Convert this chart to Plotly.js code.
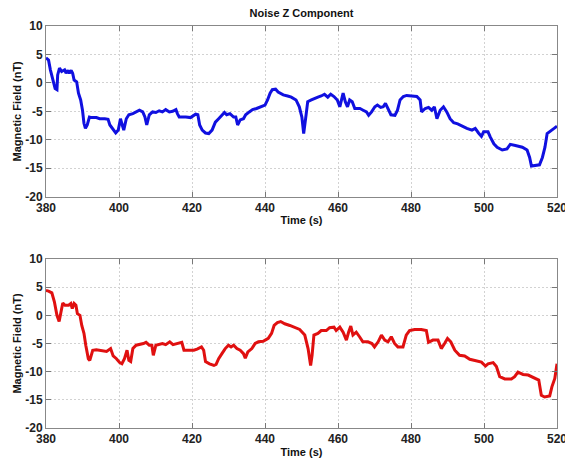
<!DOCTYPE html>
<html>
<head>
<meta charset="utf-8">
<script src="https://cdn.plot.ly/plotly-3.0.1.min.js"></script>
<style>
  html, body { margin: 0; padding: 0; background: #fff; }
  #chart { width: 565px; height: 465px; }
</style>
</head>
<body>
<div id="chart"></div>
<script>
// Noise Z component, first record (blue)
const timeA = [380.0, 380.7, 381.2, 381.9, 382.5, 383.0, 383.2, 383.7, 384.3, 385.1, 385.5, 386.0, 386.4, 386.9, 387.3, 387.7, 388.4, 388.9, 389.5, 390.0, 390.4, 390.8, 391.3, 391.9, 392.5, 393.8, 394.7, 396.1, 397.0, 397.5, 398.4, 399.1, 399.8, 400.4, 400.9, 401.3, 402.0, 402.7, 403.8, 404.7, 405.6, 406.5, 407.1, 407.6, 408.3, 409.2, 410.1, 411.0, 411.9, 412.8, 413.8, 414.7, 415.6, 416.0, 416.5, 418.3, 419.6, 421.0, 421.6, 422.1, 422.8, 423.7, 424.6, 425.5, 426.4, 427.3, 428.2, 428.9, 429.5, 430.4, 431.4, 432.0, 432.5, 433.2, 434.1, 434.7, 435.7, 436.6, 437.7, 439.1, 440.0, 440.7, 441.4, 442.0, 442.9, 443.6, 445.0, 446.2, 447.2, 448.5, 449.4, 450.1, 450.6, 451.3, 451.7, 452.7, 453.6, 454.5, 455.4, 456.3, 457.2, 458.0, 458.9, 459.8, 460.5, 460.9, 461.4, 462.0, 462.6, 463.2, 463.9, 464.6, 466.0, 466.9, 467.8, 468.4, 469.2, 470.1, 470.8, 471.7, 472.4, 473.0, 473.8, 474.5, 475.6, 476.3, 477.0, 477.9, 478.8, 480.2, 481.6, 482.5, 482.9, 483.9, 484.8, 485.7, 486.4, 487.1, 488.0, 488.9, 489.8, 490.7, 491.7, 492.8, 493.9, 495.3, 496.7, 497.6, 498.5, 499.3, 499.9, 501.1, 501.7, 502.7, 503.6, 505.0, 506.3, 507.2, 508.6, 510.5, 511.8, 512.5, 513.0, 513.9, 515.2, 516.0, 516.7, 517.3, 518.3, 519.2, 520.0];
const fieldA = [4.4, 4.0, 2.3, 0.5, -1.0, -1.2, 1.4, 2.6, 2.0, 2.3, 1.7, 2.2, 1.7, 2.2, 1.7, 0.5, 0.2, -1.8, -3.0, -4.8, -7.1, -8.0, -7.4, -6.0, -6.1, -6.1, -6.3, -6.3, -6.4, -7.4, -8.3, -8.8, -8.3, -6.3, -7.4, -8.3, -6.3, -5.6, -5.4, -5.1, -4.8, -5.1, -6.0, -7.4, -5.6, -5.1, -5.2, -4.9, -5.1, -4.7, -5.1, -5.0, -4.7, -5.4, -6.0, -6.0, -6.1, -5.5, -5.6, -7.4, -8.3, -8.8, -8.9, -8.3, -6.9, -6.3, -5.6, -5.2, -5.6, -5.4, -6.0, -6.0, -7.4, -6.5, -6.3, -5.6, -5.1, -4.7, -4.5, -4.2, -3.9, -3.0, -1.8, -1.2, -1.1, -1.6, -2.1, -2.3, -2.5, -3.0, -4.2, -6.0, -8.9, -5.4, -3.3, -3.0, -2.7, -2.5, -2.3, -2.0, -2.5, -2.0, -2.4, -3.0, -4.2, -3.0, -1.8, -3.3, -4.2, -3.0, -3.3, -4.5, -4.5, -4.8, -5.1, -5.7, -5.1, -4.2, -3.9, -4.3, -4.2, -3.6, -4.8, -5.6, -5.7, -4.8, -3.0, -2.4, -2.2, -2.3, -2.4, -3.0, -5.1, -4.5, -4.3, -4.8, -4.2, -6.3, -4.8, -4.2, -5.1, -6.3, -7.0, -7.2, -7.6, -8.0, -8.3, -8.0, -8.8, -9.4, -8.6, -8.6, -9.5, -10.7, -11.3, -11.8, -11.6, -10.8, -11.0, -11.3, -11.8, -13.1, -14.6, -14.5, -14.4, -13.1, -11.3, -8.9, -8.5, -8.0, -7.6];

// Noise Z component, second record (red)
const timeB = [380.0, 380.7, 381.6, 382.3, 383.0, 383.6, 384.2, 384.6, 385.2, 386.2, 386.8, 387.2, 387.7, 388.2, 388.6, 389.3, 389.8, 390.4, 390.9, 391.6, 392.0, 392.8, 393.8, 395.2, 396.6, 397.7, 398.4, 399.3, 400.2, 400.8, 401.5, 402.2, 402.7, 403.2, 403.8, 404.7, 405.6, 406.7, 407.4, 408.3, 409.0, 409.4, 410.1, 411.0, 411.9, 412.8, 413.9, 414.8, 416.0, 417.2, 417.8, 419.2, 420.5, 421.4, 422.6, 423.2, 423.7, 424.8, 426.0, 426.6, 427.3, 428.2, 429.1, 430.0, 430.7, 431.4, 432.3, 433.2, 434.1, 434.6, 435.3, 436.4, 437.3, 438.2, 439.5, 440.9, 441.8, 442.5, 443.4, 444.3, 445.4, 446.8, 448.1, 449.5, 450.9, 451.8, 452.5, 452.9, 453.4, 454.5, 455.4, 456.8, 457.7, 458.9, 459.5, 460.5, 461.4, 462.3, 462.9, 463.5, 464.1, 465.0, 465.9, 466.8, 468.2, 469.3, 470.0, 471.0, 471.9, 472.8, 473.7, 474.6, 475.5, 476.4, 477.8, 478.7, 479.6, 481.0, 482.8, 484.2, 484.8, 486.0, 487.4, 488.3, 489.2, 490.0, 490.9, 492.0, 493.3, 494.7, 496.1, 497.4, 499.3, 500.4, 501.1, 502.5, 503.4, 504.3, 505.7, 507.5, 508.4, 509.3, 510.7, 512.1, 513.9, 515.0, 515.7, 516.6, 518.0, 518.6, 519.4, 520.0];
const fieldB = [4.4, 4.3, 4.0, 2.4, 0.0, -1.1, 0.9, 2.2, 1.8, 1.8, 2.1, 1.2, 2.1, 1.8, 0.3, 0.0, -1.8, -3.2, -5.3, -7.7, -8.0, -6.2, -6.1, -6.2, -6.4, -5.9, -7.2, -7.7, -8.4, -8.6, -7.7, -6.2, -8.0, -8.2, -5.9, -5.3, -5.2, -5.0, -4.8, -5.3, -5.3, -7.1, -5.3, -5.2, -5.0, -5.2, -4.7, -5.2, -5.0, -4.8, -6.2, -6.2, -6.2, -6.0, -5.6, -6.2, -8.2, -8.6, -8.9, -8.7, -7.7, -6.8, -5.9, -5.3, -5.6, -5.3, -5.9, -6.2, -6.8, -7.6, -6.5, -5.9, -5.0, -4.7, -4.6, -4.1, -3.2, -1.8, -1.3, -1.1, -1.5, -1.8, -2.1, -2.5, -3.5, -5.9, -8.9, -7.1, -3.5, -3.2, -2.7, -2.7, -2.2, -2.1, -2.7, -2.1, -3.0, -4.4, -3.0, -1.9, -3.5, -3.0, -3.8, -4.7, -4.7, -5.0, -5.6, -4.7, -3.5, -4.4, -4.7, -3.8, -5.0, -5.6, -5.6, -3.5, -2.7, -2.5, -2.5, -2.7, -4.8, -4.4, -4.4, -5.9, -5.0, -4.1, -4.7, -6.2, -7.1, -7.2, -7.8, -8.0, -8.3, -9.0, -8.6, -8.4, -9.1, -10.9, -11.3, -11.3, -10.9, -10.1, -10.5, -10.6, -11.1, -11.5, -14.2, -14.5, -14.3, -12.7, -11.2, -8.6];

const xTicks = [380, 400, 420, 440, 460, 480, 500, 520];
const yTicks = [10, 5, 0, -5, -10, -15, -20];

const FONT = 'Arial, "Liberation Sans", sans-serif';
const tickFont = { family: FONT, size: 12, color: '#222', weight: 'bold' };
const labelFont = { family: FONT, size: 11, color: '#111', weight: 'bold' };

function xAxis(anchor) {
  return {
    anchor: anchor,
    range: [380, 520],
    tickvals: xTicks,
    ticktext: xTicks.map(String),
    ticklabeloverflow: 'allow',
    ticks: 'inside', ticklen: 5, tickcolor: '#777',
    showline: true, linecolor: '#888', linewidth: 1, mirror: 'ticks',
    showgrid: true, gridcolor: '#d2d2d2', griddash: '2px,2px', gridwidth: 1,
    zeroline: false,
    tickfont: tickFont,
    title: { text: 'Time (s)', font: labelFont, standoff: 2 },
    fixedrange: true
  };
}

function yAxis(anchor, domain) {
  return {
    anchor: anchor,
    domain: domain,
    range: [-20, 10],
    tickvals: yTicks,
    ticktext: yTicks.map(String),
    ticks: 'inside', ticklen: 5, tickcolor: '#777',
    showline: true, linecolor: '#888', linewidth: 1, mirror: 'ticks',
    showgrid: true, gridcolor: '#d2d2d2', griddash: '2px,2px', gridwidth: 1,
    zeroline: false,
    tickfont: tickFont,
    title: { text: 'Magnetic Field (nT)', font: labelFont, standoff: 1 },
    fixedrange: true
  };
}

const traces = [
  { x: timeA, y: fieldA, xaxis: 'x', yaxis: 'y', type: 'scatter', mode: 'lines',
    line: { color: '#1010e0', width: 3 }, hoverinfo: 'skip' },
  { x: timeB, y: fieldB, xaxis: 'x2', yaxis: 'y2', type: 'scatter', mode: 'lines',
    line: { color: '#e01010', width: 3 }, hoverinfo: 'skip' }
];

const layout = {
  width: 565, height: 465,
  margin: { l: 46, r: 8, t: 26, b: 37 },
  paper_bgcolor: '#fff', plot_bgcolor: '#fff',
  showlegend: false,
  title: { text: 'Noise Z Component', font: labelFont,
           x: 0.5, xref: 'paper', y: 1 - 13 / 465, yref: 'container', yanchor: 'middle' },
  xaxis: xAxis('y'),
  yaxis: yAxis('x', [0.5754, 1]),
  xaxis2: xAxis('y2'),
  yaxis2: yAxis('x2', [0, 0.4204])
};

Plotly.newPlot('chart', traces, layout, { displayModeBar: false, staticPlot: true });
</script>
</body>
</html>
